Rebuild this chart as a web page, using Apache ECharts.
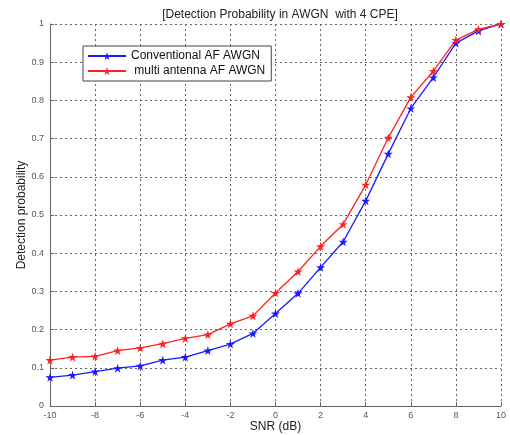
<!DOCTYPE html>
<html>
<head>
<meta charset="utf-8">
<script src="https://cdn.jsdelivr.net/npm/echarts@6/dist/echarts.min.js"></script>
<style>
  html, body { margin: 0; padding: 0; background: #fff; }
  #chart { width: 510px; height: 435px; }
</style>
</head>
<body>
<div id="chart"></div>
<script>
const snr = [-10, -9, -8, -7, -6, -5, -4, -3, -2, -1, 0, 1, 2, 3, 4, 5, 6, 7, 8, 9, 10]
const conventional = [0.075, 0.081, 0.09, 0.099, 0.105, 0.12, 0.128, 0.145, 0.162, 0.19, 0.242, 0.295, 0.363, 0.43, 0.537, 0.66, 0.779, 0.86, 0.95, 0.982, 1.0]
const multiAntenna = [0.12, 0.128, 0.13, 0.145, 0.152, 0.163, 0.177, 0.187, 0.215, 0.236, 0.296, 0.352, 0.418, 0.476, 0.579, 0.702, 0.808, 0.877, 0.958, 0.986, 1.0]
const xTicks = [-10, -8, -6, -4, -2, 0, 2, 4, 6, 8, 10]
const yTicks = [0, 0.1, 0.2, 0.3, 0.4, 0.5, 0.6, 0.7, 0.8, 0.9, 1]

const star = 'path://M50,0 L61,35 L98,35 L68,57 L79,91 L50,70 L21,91 L32,57 L2,35 L39,35 Z'
const font = 'Arial, "Liberation Sans", sans-serif'

const chart = echarts.init(document.getElementById('chart'))

// dotted grid like matlab's "grid on"
const gridLine = { show: true, lineStyle: { color: '#666', type: [2, 3], width: 1 } }

chart.setOption({
  animation: false,
  textStyle: { fontFamily: font },
  title: {
    text: '[Detection Probability in AWGN  with 4 CPE]',
    left: 275,
    top: 4,
    textAlign: 'center',
    textStyle: { fontSize: 12, fontWeight: 'normal', color: '#222', fontFamily: font }
  },
  legend: {
    left: 83,
    top: 46,
    orient: 'vertical',
    itemWidth: 38,
    itemHeight: 10,
    itemGap: 3,
    padding: [4, 6, 4, 4],
    borderColor: '#444',
    borderWidth: 1,
    backgroundColor: '#fff',
    textStyle: { fontSize: 12, color: '#111', fontFamily: font },
    data: ['Conventional AF AWGN', ' multi antenna AF AWGN']
  },
  grid: { left: 50, right: 9, top: 24, bottom: 29, outerBoundsMode: 'none' },
  xAxis: {
    type: 'value',
    min: -10,
    max: 10,
    interval: 2,
    name: 'SNR (dB)',
    nameLocation: 'middle',
    nameGap: 15,
    nameMoveOverlap: false,
    nameTextStyle: { fontSize: 12, color: '#222' },
    axisLine: { onZero: false, lineStyle: { color: '#666' } },
    axisTick: { show: true, inside: true, length: 4, lineStyle: { color: '#666' } },
    axisLabel: { fontSize: 9, color: '#555', margin: 5, formatter: v => xTicks.includes(v) ? String(v) : '' },
    splitLine: gridLine
  },
  yAxis: {
    type: 'value',
    min: 0,
    max: 1,
    interval: 0.1,
    name: 'Detection probability',
    nameLocation: 'middle',
    nameGap: 22,
    nameMoveOverlap: false,
    nameTextStyle: { fontSize: 12, color: '#222' },
    axisLine: { show: true, onZero: false, lineStyle: { color: '#666' } },
    axisTick: { show: true, inside: true, length: 4, lineStyle: { color: '#666' } },
    axisLabel: {
      fontSize: 9, color: '#555', margin: 6,
      formatter: v => {
        const t = yTicks.find(y => Math.abs(y - v) < 1e-9)
        return t === undefined ? '' : String(+t.toFixed(1))
      }
    },
    splitLine: gridLine
  },
  series: [
    {
      name: 'Conventional AF AWGN',
      type: 'line',
      data: snr.map((x, i) => [x, conventional[i]]),
      symbol: star,
      symbolSize: 9,
      color: '#1a1aff',
      lineStyle: { width: 1.3, color: '#1a1aff' },
      itemStyle: { color: '#1a1aff' }
    },
    {
      name: ' multi antenna AF AWGN',
      type: 'line',
      data: snr.map((x, i) => [x, multiAntenna[i]]),
      symbol: star,
      symbolSize: 9,
      color: '#ff2020',
      lineStyle: { width: 1.3, color: '#ff2020' },
      itemStyle: { color: '#ff2020' }
    }
  ]
})
</script>
</body>
</html>
